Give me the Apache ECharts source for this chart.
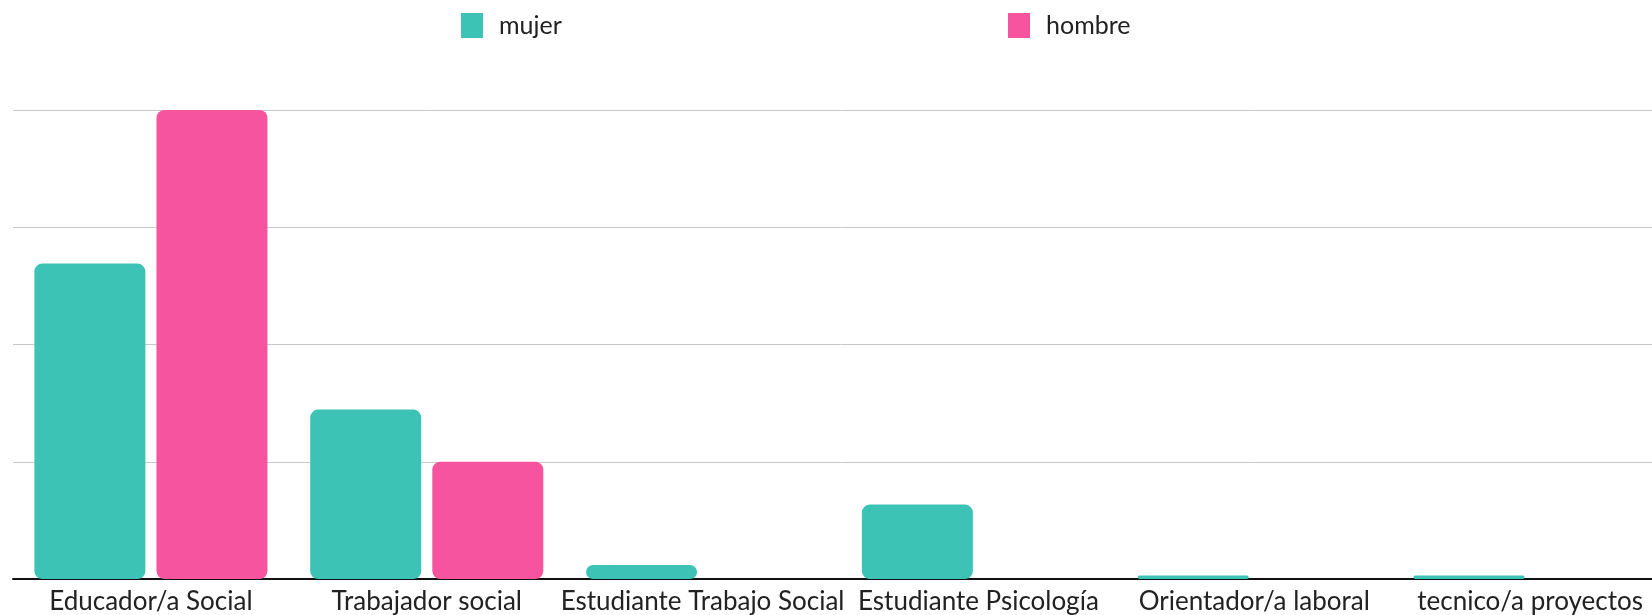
<!DOCTYPE html>
<html>
<head>
<meta charset="utf-8">
<title>mujer / hombre</title>
<script src="https://cdn.jsdelivr.net/npm/echarts@6/dist/echarts.min.js"></script>
<style>
  html, body { margin: 0; padding: 0; background: #fff; overflow: hidden; }
  /* el grafico original es algo mas ancho que la ventana y queda recortado a la derecha */
  #chart { width: 1668px; height: 615px; }
</style>
</head>
<body>
<div id="chart"></div>
<script>
// categorias (eje x)
const categories = [
  'Educador/a Social',
  'Trabajador social',
  'Estudiante Trabajo Social',
  'Estudiante Psicología',
  'Orientador/a laboral',
  'tecnico/a proyectos'
];

// valores (%)
const mujerValues = [53.8, 28.9, 2.4, 12.7, 0.6, 0.6];
const hombreValues = [80, 20, 0, 0, 0, 0];

// eje y: 0..80 de 20 en 20 (sin etiquetas)
const yTicks = [0, 20, 40, 60, 80];

const colorMujer = '#3dc2b6';
const colorHombre = '#f754a0';
const fontFamily = 'Lato, "Open Sans", sans-serif';

const chart = echarts.init(document.getElementById('chart'));

const legendText = {
  color: '#222',
  fontSize: 25,
  fontFamily: fontFamily,
  padding: [0, 0, 0, 11]
};

const option = {
  animation: false,
  legend: [
    {
      data: ['mujer'],
      left: 461,
      top: 13,
      padding: 0,
      itemWidth: 22,
      itemHeight: 25,
      icon: 'rect',
      textStyle: legendText
    },
    {
      data: ['hombre'],
      left: 1008,
      top: 13,
      padding: 0,
      itemWidth: 22,
      itemHeight: 25,
      icon: 'rect',
      textStyle: legendText
    }
  ],
  grid: {left: 13, right: 0, top: 110, bottom: 36},
  xAxis: {
    type: 'category',
    data: categories,
    axisLine: {lineStyle: {color: '#111', width: 2}},
    axisTick: {show: false},
    axisLabel: {
      color: '#222',
      fontSize: 26,
      fontFamily: fontFamily,
      margin: 10,
      interval: 0
    }
  },
  yAxis: {
    type: 'value',
    min: yTicks[0],
    max: yTicks[yTicks.length - 1],
    interval: yTicks[1] - yTicks[0],
    axisLabel: {show: false},
    axisLine: {show: false},
    axisTick: {show: false},
    splitLine: {lineStyle: {color: '#c8c8c8', width: 1}}
  },
  series: [
    {
      name: 'mujer',
      type: 'bar',
      data: mujerValues,
      barWidth: 111,
      barGap: '10%',
      itemStyle: {color: colorMujer, borderRadius: 8}
    },
    {
      name: 'hombre',
      type: 'bar',
      data: hombreValues,
      barWidth: 111,
      barGap: '10%',
      itemStyle: {color: colorHombre, borderRadius: 8}
    }
  ]
};

chart.setOption(option);
</script>
</body>
</html>
